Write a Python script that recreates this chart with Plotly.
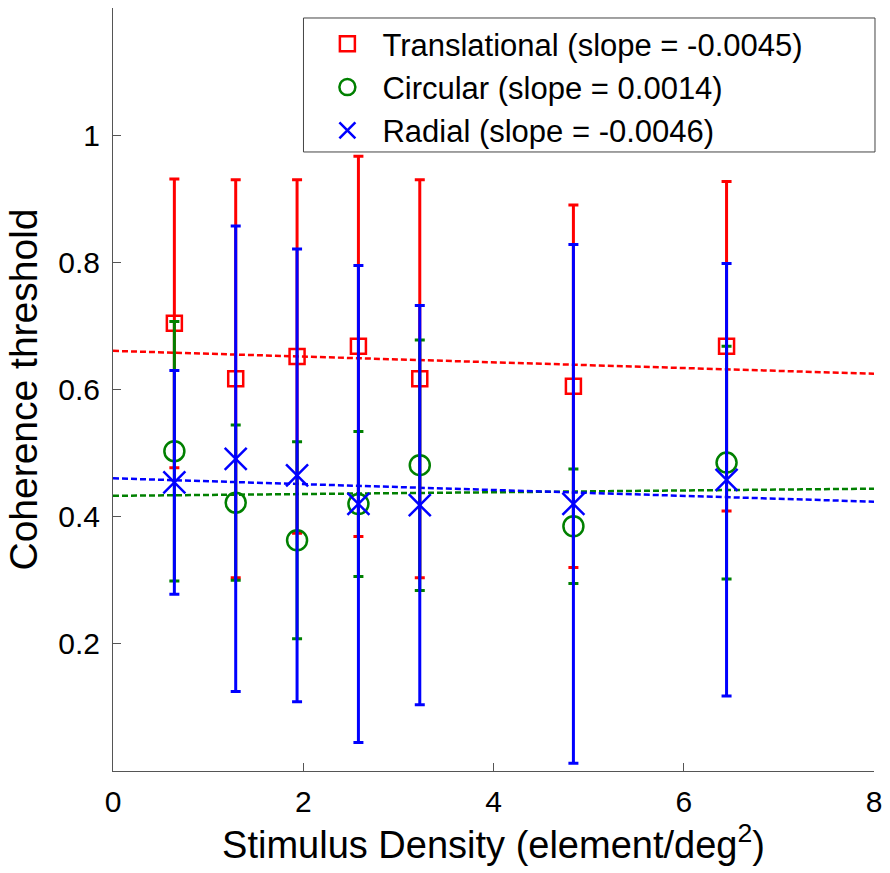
import numpy as np
import plotly.graph_objects as go

# Stimulus density (elements / deg^2)
density = [0.645, 1.29, 1.935, 2.58, 3.225, 4.84, 6.45]

# Coherence thresholds (mean) and error-bar half widths per motion type
trans_mean = [0.704, 0.617, 0.652, 0.668, 0.617, 0.605, 0.668]
trans_err = [0.227, 0.313, 0.278, 0.299, 0.313, 0.285, 0.259]

circ_mean = [0.503, 0.422, 0.363, 0.420, 0.481, 0.385, 0.485]
circ_err = [0.204, 0.122, 0.155, 0.114, 0.197, 0.090, 0.183]

rad_mean = [0.454, 0.491, 0.465, 0.420, 0.418, 0.420, 0.458]
rad_err = [0.176, 0.366, 0.356, 0.375, 0.314, 0.408, 0.340]

# Regression slopes reported in the legend
slopes = [-0.0045, 0.0014, -0.0046]
series_names = ["Translational", "Circular", "Radial"]
colors = ["#FF0000", "#008000", "#0000FF"]
symbols = ["square-open", "circle-open", "x-thin-open"]
marker_sizes = [15, 20, 22]

fit_x = [0, 8]
x_ticks = [0, 2, 4, 6, 8]
y_ticks = [0.2, 0.4, 0.6, 0.8, 1.0]
y_ticktext = ["0.2", "0.4", "0.6", "0.8", "1"]

means = [trans_mean, circ_mean, rad_mean]
errs = [trans_err, circ_err, rad_err]

FONT = "Liberation Sans, Arial, Helvetica, sans-serif"

fig = go.Figure()

# dashed regression lines (drawn underneath the data)
x_arr = np.array(density)
for m, s, c in zip(means, slopes, colors):
    intercept = np.mean(m) - s * x_arr.mean()
    fy = [intercept + s * fx for fx in fit_x]
    fig.add_trace(go.Scatter(
        x=fit_x, y=fy, mode="lines",
        line=dict(color=c, width=2.5, dash="6px,3px"),
        showlegend=False, hoverinfo="skip",
    ))

# data with error bars
for name, m, e, s, c, sym, ms in zip(series_names, means, errs, slopes, colors, symbols, marker_sizes):
    fig.add_trace(go.Scatter(
        x=density, y=m, mode="markers",
        name=f"{name} (slope = {s})",
        marker=dict(symbol=sym, size=ms, color=c, line=dict(color=c, width=2.5)),
        error_y=dict(type="data", array=e, visible=True, color=c, thickness=3, width=5),
    ))

# legend frame
fig.add_shape(
    type="rect", xref="paper", yref="paper",
    x0=0.2503, x1=1.0013, y0=0.8113, y1=0.9869,
    line=dict(color="#444444", width=1), fillcolor="white", layer="above",
)

fig.update_layout(
    width=890, height=873,
    margin=dict(l=113, r=14, t=8, b=102),
    paper_bgcolor="white", plot_bgcolor="white",
    font=dict(family=FONT, color="black", size=30),
    legend=dict(
        x=0.262, y=0.988, xanchor="left", yanchor="top",
        borderwidth=0, bgcolor="rgba(0,0,0,0)",
        font=dict(size=31, family=FONT), itemwidth=60,
    ),
    xaxis=dict(
        range=[0, 8], tickvals=x_ticks, showgrid=False, zeroline=False,
        showline=True, linecolor="#555555", linewidth=1,
        ticks="inside", ticklen=8, tickcolor="#555555",
        tickfont=dict(size=30), ticklabelstandoff=4,
        title=dict(text="Stimulus Density (element/deg<sup>2</sup>)", font=dict(size=38), standoff=12),
    ),
    yaxis=dict(
        range=[0, 1.2], tickvals=y_ticks, ticktext=y_ticktext, showgrid=False, zeroline=False,
        showline=True, linecolor="#555555", linewidth=1,
        ticks="inside", ticklen=8, tickcolor="#555555",
        tickfont=dict(size=30), ticklabelstandoff=6,
        title=dict(text="Coherence threshold", font=dict(size=39), standoff=8),
    ),
)

fig.write_html("out.html")
